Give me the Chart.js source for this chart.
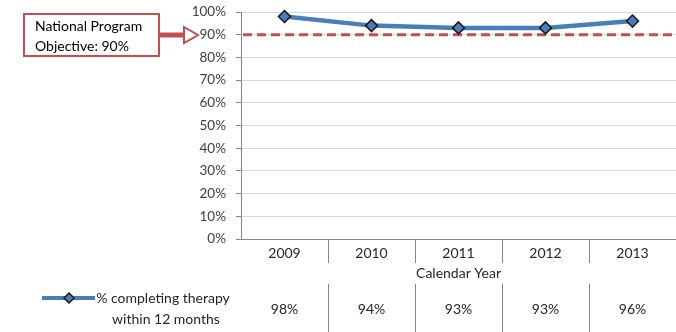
<!DOCTYPE html>
<html>
<head>
<meta charset="utf-8">
<script src="https://cdn.jsdelivr.net/npm/chart.js@4"></script>
<style>
body{margin:0;background:#fff}
</style>
</head>
<body>
<canvas id="tbChart" width="676" height="332"></canvas>
<script>
const years=['2009','2010','2011','2012','2013']
const completing=[98,94,93,93,96]
const objective=90
const seriesLabel=['% completing therapy','within 12 months']
const calloutLines=['National Program','Objective: 90%']
const axisTitle='Calendar Year'

const red='#c0504d'
const blue='#4a7ebb'
const fontFam='Lato, "Liberation Sans", sans-serif'

// objective line, data table, legend key and callout box
const extras={
id:'extras',
beforeDatasetsDraw(chart){
const c=chart.ctx, a=chart.chartArea, y=chart.scales.y.getPixelForValue(objective)
c.save()
c.strokeStyle=red
c.lineWidth=3
c.setLineDash([9,5])
c.beginPath()
c.moveTo(a.left+2,y)
c.lineTo(a.right,y)
c.stroke()
c.restore()
},
afterDraw(chart){
const c=chart.ctx, a=chart.chartArea, xs=chart.scales.x, ys=chart.scales.y
c.save()
// separators
c.strokeStyle='#868686'
c.lineWidth=1
for(let i=0;i<years.length-1;i++){
const x=Math.round((xs.getPixelForValue(i)+xs.getPixelForValue(i+1))/2)+0.5
c.beginPath()
c.moveTo(x,a.bottom)
c.lineTo(x,a.bottom+24)
c.moveTo(x,284)
c.lineTo(x,332)
c.stroke()
}
// values row
c.fillStyle='#262626'
c.font='14px '+fontFam
c.textAlign='center'
c.textBaseline='middle'
completing.forEach((v,i)=>{
c.fillText(v+'%',xs.getPixelForValue(i),309)
})
// legend key
c.strokeStyle=blue
c.lineWidth=4
c.beginPath()
c.moveTo(42,298)
c.lineTo(95,298)
c.stroke()
c.fillStyle=blue
c.strokeStyle='#1a1a1a'
c.lineWidth=1.5
c.beginPath()
c.moveTo(69,293)
c.lineTo(74,298)
c.lineTo(69,303)
c.lineTo(64,298)
c.closePath()
c.fill()
c.stroke()
c.fillStyle='#262626'
c.fillText(seriesLabel[0],163,298)
c.fillText(seriesLabel[1],166,319)
// callout
const y=Math.round(ys.getPixelForValue(objective))
c.fillStyle='#fff'
c.strokeStyle=red
c.lineWidth=2
c.fillRect(24,14,135,42)
c.strokeRect(24,14,135,42)
c.lineWidth=5
c.beginPath()
c.moveTo(159,y)
c.lineTo(184,y)
c.stroke()
c.lineWidth=2
c.beginPath()
c.moveTo(184,y-8)
c.lineTo(198,y)
c.lineTo(184,y+8)
c.closePath()
c.fill()
c.stroke()
c.fillStyle='#000'
c.textAlign='left'
c.fillText(calloutLines[0],35,26)
c.fillText(calloutLines[1],35,46)
c.restore()
}
}

new Chart(document.getElementById('tbChart'),{
type:'line',
data:{
labels:years,
datasets:[{
label:seriesLabel.join(' '),
data:completing,
borderColor:blue,
borderWidth:4.5,
backgroundColor:blue,
pointStyle:'rectRot',
pointRadius:6,
pointBackgroundColor:blue,
pointBorderColor:'#1a1a1a',
pointBorderWidth:1.5,
tension:0,
clip:false
}]
},
options:{
responsive:false,
animation:false,
layout:{autoPadding:false,padding:{top:12,right:0,bottom:50,left:0}},
plugins:{
legend:{display:false},
tooltip:{enabled:false}
},
scales:{
x:{
offset:true,
grid:{display:false,drawTicks:false},
border:{color:'#868686'},
ticks:{color:'#262626',padding:6,font:{family:fontFam,size:14}},
title:{display:true,text:axisTitle,color:'#262626',padding:0,font:{family:fontFam,size:14}},
afterFit(s){s.height=43;s.paddingLeft=0;s.paddingRight=0}
},
y:{
min:0,
max:100,
ticks:{stepSize:10,color:'#404040',padding:10,font:{family:fontFam,size:13.5},callback:v=>v+'%'},
grid:{color:'#d9d9d9',tickColor:'#868686',tickLength:5},
border:{color:'#868686'},
afterFit(s){s.width=241;s.paddingTop=0;s.paddingBottom=0}
}
}
},
plugins:[extras]
})
</script>
</body>
</html>
